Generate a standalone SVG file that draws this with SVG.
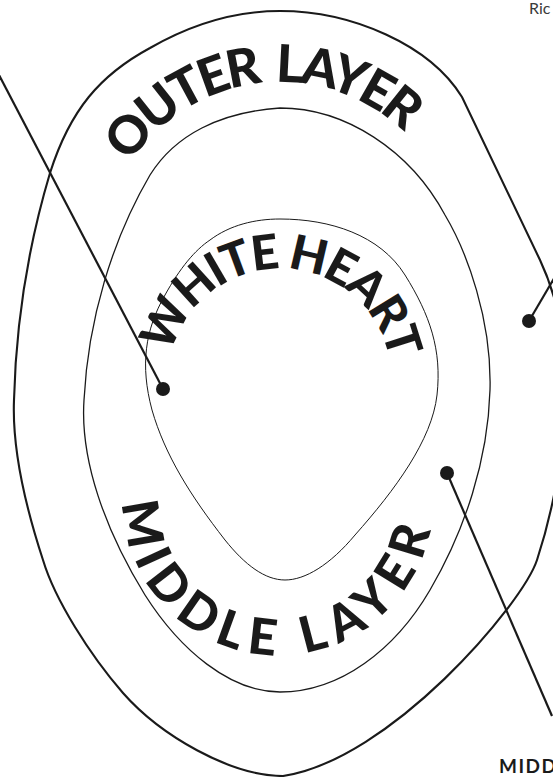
<svg xmlns="http://www.w3.org/2000/svg" width="553" height="777" viewBox="0 0 553 777">
  <style>
    .bnd { fill: none; stroke: #1a1a1a; }
    .outer { stroke-width: 2.1; }
    .middle { stroke-width: 1.3; }
    .inner { stroke-width: 1; }
    .ptr { stroke: #1a1a1a; stroke-width: 2.2; fill: none; }
    .dot { fill: #1a1a1a; }
    .arc { font-family: Lato, "Noto Sans", sans-serif; font-weight: 900; fill: #1a1a1a; }
    .lbl { font-family: Lato, "Noto Sans", sans-serif; }
  </style>
  <defs>
    <path id="pOuter" d="M111.8,199.8 A179,179 0 0 1 435,171.5"/>
    <path id="pHeart" d="M168.5,380 A111.5,111.5 0 0 1 391.5,380"/>
    <path id="pMiddle" d="M125.4,473.1 A155,155 0 1 0 430.6,473.1"/>
  </defs>
  <rect width="553" height="777" fill="#ffffff"/>

  <g id="outer-layer">
    <path class="bnd outer" d="M280,11 C352,11 430,45 462,97 L540,260 C555,292 565,330 565,380 C565,430 560,490 537,560 C522,605 390,760 283,776 C230,776 160,735 123,693 C90,655 55,600 43,560 C25,505 12,450 14,400 C16,320 30,240 50,173 C70,110 100,75 150,48 C190,25 235,11 280,11 Z"/>
    <text class="arc" font-size="52" word-spacing="8"><textPath href="#pOuter" startOffset="41" textLength="315" lengthAdjust="spacing">OUTER LAYER</textPath></text>
  </g>

  <g id="middle-layer">
    <path class="bnd middle" d="M280,108 C345,108 410,150 445,215 C467,252 492,320 490,390 C488,460 465,530 430,590 C395,650 340,692 280,692 C230,692 180,650 145,595 C105,530 80,460 84,400 C88,320 112,240 150,175 C175,135 220,112 280,108 Z"/>
    <text class="arc" font-size="50"><textPath href="#pMiddle" startOffset="30" textLength="454" lengthAdjust="spacing">MIDDLE LAYER</textPath></text>
  </g>

  <g id="white-heart">
    <path class="bnd inner" d="M280,219 C330,219 380,235 405,275 C430,315 442,350 437,395 C432,440 395,490 355,535 C330,565 305,580 285,580 C265,580 245,565 225,540 C190,495 165,455 152,410 C140,365 145,330 165,295 C180,268 195,250 210,240 C230,225 255,219 280,219 Z"/>
    <text class="arc" font-size="48"><textPath href="#pHeart" startOffset="26" textLength="304" lengthAdjust="spacing">WHITE HEART</textPath></text>
  </g>

  <g id="connectors">
    <line class="ptr" x1="-2" y1="73" x2="163" y2="389"/>
    <circle class="dot" cx="163" cy="389" r="7"/>
    <line class="ptr" x1="529" y1="321" x2="566" y2="258"/>
    <circle class="dot" cx="529" cy="321" r="7"/>
    <line class="ptr" x1="447" y1="473" x2="552" y2="716"/>
    <circle class="dot" cx="447" cy="473" r="7"/>
  </g>

  <g id="label-top">
    <text class="lbl" x="529" y="14" font-size="16" font-weight="400" fill="#3a3a3a">Ric</text>
  </g>
  <g id="label-bottom">
    <text class="lbl" x="499" y="773" font-size="19" font-weight="700" letter-spacing="1.5" fill="#1a1a1a">MIDD</text>
  </g>
</svg>
